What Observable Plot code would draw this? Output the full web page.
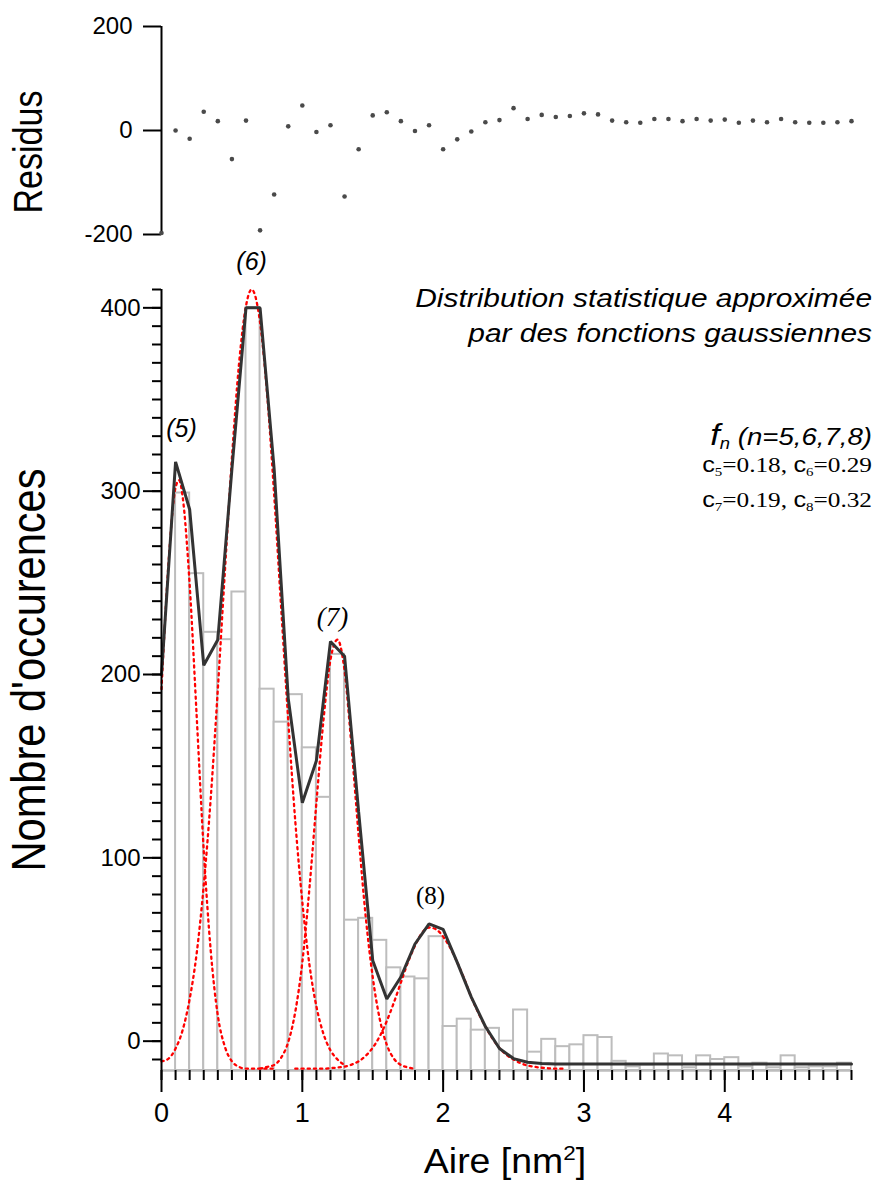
<!DOCTYPE html>
<html>
<head>
<meta charset="utf-8">
<script src="https://cdn.jsdelivr.net/npm/d3@7"></script>
<script src="https://cdn.jsdelivr.net/npm/@observablehq/plot@0.6"></script>
<style>
  body { margin: 0; background: #fff; }
  #wrap { position: relative; width: 876px; height: 1183px; overflow: hidden; }
  #wrap > svg { position: absolute; left: 0; }
  svg.mainplot g[aria-label="x-axis tick label"],
  svg.mainplot g[aria-label="x-axis tick label"] text {
    font-size: 27px !important;
    font-family: 'Liberation Sans Narrow', 'Arial Narrow', 'Liberation Sans', Arial, sans-serif !important;
  }
  svg.mainplot g[aria-label="y-axis tick label"],
  svg.mainplot g[aria-label="y-axis tick label"] text {
    font-size: 24px !important;
    font-family: 'Liberation Sans Narrow', 'Arial Narrow', 'Liberation Sans', Arial, sans-serif !important;
  }
  svg.residplot g[aria-label="y-axis tick label"],
  svg.residplot g[aria-label="y-axis tick label"] text {
    font-size: 24px !important;
  }
</style>
</head>
<body>
<div id="wrap"></div>
<script>
// ---------------- data ----------------
// histogram: left edge of each 0.1-wide bin and its count
const binLeft = [0.1,0.2,0.3,0.4,0.5,0.6,0.7,0.8,0.9,1.0,1.1,1.2,1.3,1.4,1.5,1.6,1.7,1.8,1.9,2.0,2.1,2.2,2.3,2.4,2.5,2.6,2.7,2.8,2.9,3.0,3.1,3.2,3.3,3.4,3.5,3.6,3.7,3.8,3.9,4.0,4.1,4.2,4.3,4.4,4.5,4.6,4.7,4.8];
const counts  = [299,255,223,219,245,400,192,174,189,160,133,211,66,67,55,40,35,34,57,8,12,6,7,0,17,-6,1,-3,-2,3,2,-11,-14,-13,-7,-8,-14.5,-8,-10,-9,-14,-12,-14.5,-8,-14.5,-14,-14,-12];
const binWidth = 0.1;

// total fit (black line) and residuals, sampled at the same abscissae
const fitX = [0,0.1,0.2,0.3,0.4,0.5,0.6,0.7,0.8,0.9,1.0,1.1,1.2,1.3,1.4,1.5,1.6,1.7,1.8,1.9,2.0,2.1,2.2,2.3,2.4,2.5,2.6,2.7,2.8,2.9,3.0,3.1,3.2,3.3,3.4,3.5,3.6,3.7,3.8,3.9,4.0,4.1,4.2,4.3,4.4,4.5,4.6,4.7,4.8,4.9];
const fitY = [200,316,290,205,219,312,400,400,312,187,130,153,218,210,125,44,23,35,53,64,61,43,24,8,-4,-9.5,-11.5,-12.2,-12.5,-12.5,-12.5,-12.5,-12.5,-12.5,-12.5,-12.5,-12.5,-12.5,-12.5,-12.5,-12.5,-12.5,-12.5,-12.5,-12.5,-12.5,-12.5,-12.5,-12.5,-12.5];
const residY = [-197,0,-16,36,18,-55,19,-192,-123,8,48,-3,10,-127,-36,29,35,18,-1,10,-36,-17,-2,16,20,43,22,30,26,28,33,31,19,16,15,22,22,18,22,19,21,15,19,16,22,16,15,15,16,18];

// individual gaussian components f5..f8 (red dotted)
const g5x = [0,0.05,0.1,0.125,0.15,0.2,0.25,0.3,0.35,0.4,0.45,0.5,0.55,0.6,0.7,0.8];
const g5y = [192,261,302,306,297,249,177,104,49,14,-3,-11,-14,-15,-15,-15];
const g6x = [0,0.05,0.1,0.15,0.2,0.25,0.3,0.35,0.4,0.45,0.5,0.55,0.6,0.64,0.7,0.75,0.8,0.85,0.9,0.95,1.0,1.05,1.1,1.15,1.2,1.25,1.3];
const g6y = [-11,-9.5,-4,6,23,48,85,133,192,256,318,369,401,410,392,353,298,236,175,120,76,42,19,4,-5,-10,-13];
const g7x = [0.7,0.75,0.8,0.85,0.9,0.95,1.0,1.05,1.1,1.15,1.2,1.25,1.3,1.35,1.4,1.45,1.5,1.55,1.6,1.65,1.7,1.75,1.8];
const g7y = [-15,-14,-13,-9,-0.5,16,43,83,130,175,208,219,202,160,112,68,35,12,-2,-9.5,-13,-14.3,-15];
const g8x = [0.95,1.0,1.05,1.1,1.15,1.2,1.25,1.3,1.35,1.4,1.45,1.5,1.55,1.6,1.65,1.7,1.75,1.8,1.85,1.9,1.95,2.0,2.05,2.1,2.15,2.2,2.25,2.3,2.35,2.4,2.45,2.5,2.55,2.6,2.65,2.7,2.75,2.8,2.85];
const g8y = [-15,-15,-15,-15,-15,-14.7,-14.4,-13.9,-12.8,-11,-8,-3.6,2.7,11,21,32,43,52,59,62,61,57,51,43,34,24,15.5,8,1.5,-3.7,-7.5,-10,-12,-13.3,-14,-14.5,-14.8,-15,-15];

// ticks / labels
const xTicks = [0,1,2,3,4];
const mainYTicks = [0,100,200,300,400];
const residTicks = [-200,0,200];
const peakNames = ["(5)","(6)","(7)","(8)"];
const peakAnchorX = [0.142,0.64,1.215,1.91];
const peakAnchorY = [334,425,231,79];
const coefN = ["5","6","7","8"];
const coefV = ["0.18","0.29","0.19","0.32"];

// ---------------- build ----------------
const SANS = "'Liberation Sans', Arial, Helvetica, sans-serif";
const SERIF = "'Liberation Serif', 'Times New Roman', serif";
const W = 876;
const xDomain = [0, 4.9];
const yMain = [-16, 410];
const plain = d => String(d);

const bars = binLeft.map((x, i) => ({x1: x, x2: +(x + binWidth).toFixed(2), n: counts[i]}));
const fit = fitX.map((x, i) => ({x, y: fitY[i]}));
const resid = fitX.map((x, i) => ({x, r: residY[i]}));
const comps = [
  ...g5x.map((x, i) => ({k: "f5", x, y: g5y[i]})),
  ...g6x.map((x, i) => ({k: "f6", x, y: g6y[i]})),
  ...g7x.map((x, i) => ({k: "f7", x, y: g7y[i]})),
  ...g8x.map((x, i) => ({k: "f8", x, y: g8y[i]}))
];
const peaks = peakNames.map((t, i) => ({t, x: peakAnchorX[i], y: peakAnchorY[i]}));
const minorY = d3.range(-1, 42).map(i => i * 10);
const minorX = d3.range(0, 50).map(i => i / 10);

const wrap = document.getElementById("wrap");

const residPlot = Plot.plot({
  className: "residplot",
  width: W, height: 250,
  marginLeft: 161, marginRight: 25, marginTop: 26, marginBottom: 16,
  x: {domain: xDomain, axis: null},
  y: {domain: [-200, 200], axis: null},
  style: {fontFamily: SANS, fontSize: "24px", background: "transparent", overflow: "visible", color: "#000"},
  marks: [
    Plot.ruleX([0], {stroke: "#000", strokeWidth: 2}),
    Plot.axisY(residTicks, {tickSize: 18, tickPadding: 11, fontSize: 24, strokeWidth: 2, tickFormat: plain, label: null}),
    Plot.dot(resid, {x: "x", y: "r", r: 2.3, fill: "#4a4a4a", stroke: "none"})
  ]
});
residPlot.style.top = "0px";
residPlot.classList.add("residplot");
wrap.appendChild(residPlot);

const mainPlot = Plot.plot({
  className: "mainplot",
  width: W, height: 933,
  marginLeft: 161, marginRight: 25, marginTop: 39, marginBottom: 113,
  x: {domain: xDomain, axis: null},
  y: {domain: yMain, axis: null},
  style: {fontFamily: SANS, fontSize: "24px", background: "transparent", overflow: "visible", color: "#000"},
  marks: [
    Plot.rect(bars, {x1: "x1", x2: "x2", y1: yMain[0], y2: "n", fill: "white", stroke: "#bdbdbd", strokeWidth: 2}),
    Plot.ruleY([yMain[0]], {stroke: "#bdbdbd", strokeWidth: 2.5}),
    Plot.line(comps, {x: "x", y: "y", z: "k", stroke: "#ff0000", strokeWidth: 2.3, strokeDasharray: "2.2,4", curve: "monotone-x"}),
    Plot.line(fit, {x: "x", y: "y", stroke: "#333333", strokeWidth: 3, strokeLinejoin: "miter"}),
    Plot.ruleX([0], {stroke: "#000", strokeWidth: 2}),
    Plot.axisY(mainYTicks, {tickSize: 18, tickPadding: 3, fontSize: 24, strokeWidth: 2, tickFormat: plain, label: null}),
    Plot.axisY(minorY, {tickSize: 9, tickFormat: () => "", strokeWidth: 2, label: null, ariaLabel: "y-axis minor"}),
    Plot.axisX(xTicks, {tickSize: 22, tickPadding: 10, fontSize: 27, strokeWidth: 2, tickFormat: plain, label: null}),
    Plot.axisX(minorX, {tickSize: 10, tickFormat: () => "", strokeWidth: 2, label: null, ariaLabel: "x-axis minor"}),
    Plot.text(peaks.filter(d => d.t === "(5)" || d.t === "(6)"), {x: "x", y: "y", text: "t", fontSize: 25, fontStyle: "italic", fontFamily: SANS, fill: "#000"}),
    Plot.text(peaks.filter(d => d.t === "(7)"), {x: "x", y: "y", text: "t", fontSize: 27, fontStyle: "italic", fontFamily: SERIF, fill: "#000"}),
    Plot.text(peaks.filter(d => d.t === "(8)"), {x: "x", y: "y", text: "t", fontSize: 25, fontFamily: SERIF, fill: "#000"})
  ]
});
mainPlot.style.top = "250px";
mainPlot.classList.add("mainplot");
wrap.appendChild(mainPlot);

// ---------------- overlay text (titles, description) ----------------
const ov = d3.select(wrap).append("svg")
  .attr("width", W).attr("height", 1183)
  .style("top", "0px").style("pointer-events", "none")
  .attr("font-family", SANS).style("white-space", "pre");

ov.append("text")
  .attr("transform", "translate(42,152) scale(1.15,1) rotate(-90)")
  .attr("text-anchor", "middle").attr("font-size", 35)
  .attr("textLength", 123).attr("lengthAdjust", "spacingAndGlyphs")
  .text("Residus");

ov.append("text")
  .attr("transform", "translate(45,670) scale(1.15,1) rotate(-90)")
  .attr("text-anchor", "middle").attr("font-size", 41)
  .attr("textLength", 403).attr("lengthAdjust", "spacingAndGlyphs")
  .text("Nombre d'occurences");

const aire = ov.append("text")
  .attr("transform", "translate(505,1173) scale(1.07,1)")
  .attr("text-anchor", "middle").attr("font-size", 35);
aire.append("tspan").text("Aire [nm");
aire.append("tspan").attr("font-size", 21).attr("dy", -13).text("2");
aire.append("tspan").attr("dy", 13).text("]");

const g = ov.append("g").attr("transform", "translate(872,0) scale(1.15,1)");
g.append("text").attr("x", 0).attr("y", 307).attr("text-anchor", "end")
  .attr("font-style", "italic").attr("font-size", 26).text("Distribution statistique approximée");
g.append("text").attr("x", 0).attr("y", 342).attr("text-anchor", "end")
  .attr("font-style", "italic").attr("font-size", 26).text("par des fonctions gaussiennes");

const fn = g.append("text").attr("x", 0).attr("y", 445).attr("text-anchor", "end").attr("font-style", "italic");
fn.append("tspan").attr("font-size", 30).text("f");
fn.append("tspan").attr("font-size", 16).attr("dy", 4).text("n");
fn.append("tspan").attr("font-size", 24).attr("dy", -4).text(" (n=" + coefN.join(",") + ")");

[[0, 1, 472], [2, 3, 507]].forEach(([a, b, y]) => {
  const t = g.append("text").attr("x", 0).attr("y", y).attr("text-anchor", "end")
    .attr("font-family", SERIF).attr("font-size", 22);
  [a, b].forEach((k, j) => {
    t.append("tspan").attr("font-family", SANS).text("c");
    t.append("tspan").attr("font-size", 13).attr("dy", 4).text(coefN[k]);
    t.append("tspan").attr("dy", -4).text("=" + coefV[k] + (j === 0 ? ", " : ""));
  });
});
</script>
</body>
</html>
